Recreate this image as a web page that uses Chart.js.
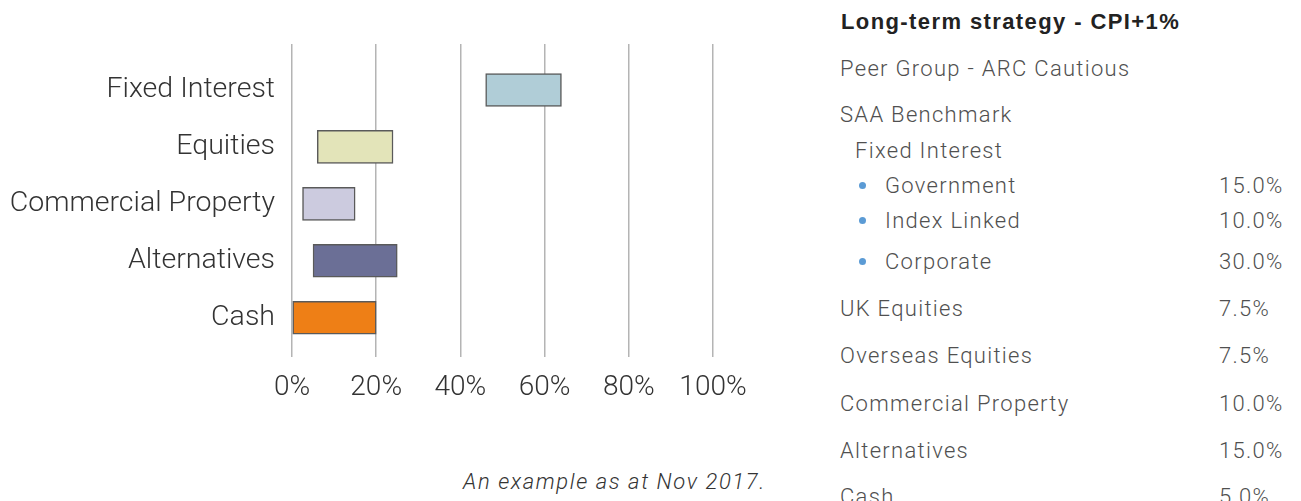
<!DOCTYPE html>
<html>
<head>
<meta charset="utf-8">
<script src="https://cdn.jsdelivr.net/npm/chart.js@4.4.1/dist/chart.umd.min.js"></script>
<style>
  html, body { margin: 0; padding: 0; background: #fff; width: 1301px; height: 501px; overflow: hidden; }
  #chartBox { position: absolute; left: 0; top: 0; width: 780px; height: 420px; }
  .row { position: absolute; font-family: Roboto, "Liberation Sans", sans-serif; font-weight: 300; font-size: 22px; letter-spacing: 1.3px; color: #505050; line-height: 30px; white-space: nowrap; }
  .title { font-family: "Liberation Sans", Arial, sans-serif; font-weight: 700; font-size: 22px; letter-spacing: 1.4px; color: #222; }
  .bullet { position: absolute; width: 7px; height: 7px; border-radius: 50%; background: #5b9bd5; }
  .caption { position: absolute; left: 463px; top: 468px; font-family: Roboto, "Liberation Sans", sans-serif; font-weight: 300; font-style: italic; font-size: 22px; letter-spacing: 1.6px; color: #333; white-space: nowrap; line-height: 28px; }
</style>
</head>
<body>
<div id="chartBox"><canvas id="c"></canvas></div>
<div id="panel"></div>
<div class="caption">An example as at Nov 2017.</div>
<script>
// ---- Chart data ----
const categories = ['Fixed Interest', 'Equities', 'Commercial Property', 'Alternatives', 'Cash'];
const rangeLow  = [46, 6, 2.5, 5, 0];
const rangeHigh = [64, 24, 15, 25, 20];
const barColors = ['#b0cdd7', '#e3e4b9', '#cccbdf', '#6b6f96', '#ee7f16'];
const xTicks = [0, 20, 40, 60, 80, 100];

// ---- Side panel text ----
const panelTitle = 'Long-term strategy - CPI+1%';
const panelLabels = ['Peer Group - ARC Cautious', 'SAA Benchmark', 'Fixed Interest', 'Government', 'Index Linked', 'Corporate', 'UK Equities', 'Overseas Equities', 'Commercial Property', 'Alternatives', 'Cash'];
const panelValues = ['', '', '', '15.0%', '10.0%', '30.0%', '7.5%', '7.5%', '10.0%', '15.0%', '5.0%'];
const panelLevels = [0, 0, 1, 2, 2, 2, 0, 0, 0, 0, 0];
const panelY = [69, 115, 151, 186, 221, 262, 309, 356, 404, 451, 497];

// build panel
const panel = document.getElementById('panel');
const t = document.createElement('div');
t.className = 'row title';
t.style.left = '841px'; t.style.top = (22 - 15) + 'px';
t.textContent = panelTitle;
panel.appendChild(t);
panelLabels.forEach((lab, i) => {
  const d = document.createElement('div');
  d.className = 'row';
  const lx = panelLevels[i] === 0 ? 840 : panelLevels[i] === 1 ? 855 : 885;
  d.style.left = lx + 'px';
  d.style.top = (panelY[i] - 15) + 'px';
  d.textContent = lab;
  panel.appendChild(d);
  if (panelLevels[i] === 2) {
    const b = document.createElement('div');
    b.className = 'bullet';
    b.style.left = '859px';
    b.style.top = (panelY[i] - 4) + 'px';
    panel.appendChild(b);
  }
  if (panelValues[i]) {
    const v = document.createElement('div');
    v.className = 'row';
    v.style.left = '1219px';
    v.style.top = (panelY[i] - 15) + 'px';
    v.textContent = panelValues[i];
    panel.appendChild(v);
  }
});

// ---- Chart ----
const fontFam = 'Roboto, "Liberation Sans", sans-serif';
new Chart(document.getElementById('c'), {
  type: 'bar',
  data: {
    datasets: [{
      data: categories.map((c, i) => ({ x: [rangeLow[i], rangeHigh[i]], y: i })),
      backgroundColor: barColors,
      borderColor: '#5a5a5a',
      borderWidth: 1.5,
      borderSkipped: false,
      barThickness: 33
    }]
  },
  options: {
    indexAxis: 'y',
    responsive: true,
    maintainAspectRatio: false,
    animation: false,
    layout: { padding: { top: 44, right: 67, left: 0, bottom: 0 } },
    plugins: { legend: { display: false }, tooltip: { enabled: false } },
    scales: {
      y: {
        type: 'linear',
        offset: false,
        reverse: true,
        min: -0.808,
        max: 4.69,
        grid: { display: false, offset: false },
        border: { display: false },
        afterBuildTicks: s => { s.ticks = categories.map((c, i) => ({ value: i })); },
        afterFit: s => { s.width = 292; },
        ticks: {
          autoSkip: false,
          padding: 9,
          color: '#333',
          font: { family: fontFam, size: 28.5, weight: 300 },
          callback: v => categories[v] !== undefined ? categories[v] : ''
        }
      },
      x: {
        type: 'linear',
        min: 0,
        max: 100,
        afterBuildTicks: s => { s.ticks = xTicks.map(v => ({ value: v })); },
        afterFit: s => { s.height = 63; },
        grid: { color: '#b4b4b4', lineWidth: 1.5, drawTicks: false },
        border: { display: false },
        ticks: {
          padding: 14,
          color: '#333',
          font: { family: fontFam, size: 28, weight: 300 },
          callback: v => v + '%'
        }
      }
    }
  }
});
</script>
</body>
</html>
